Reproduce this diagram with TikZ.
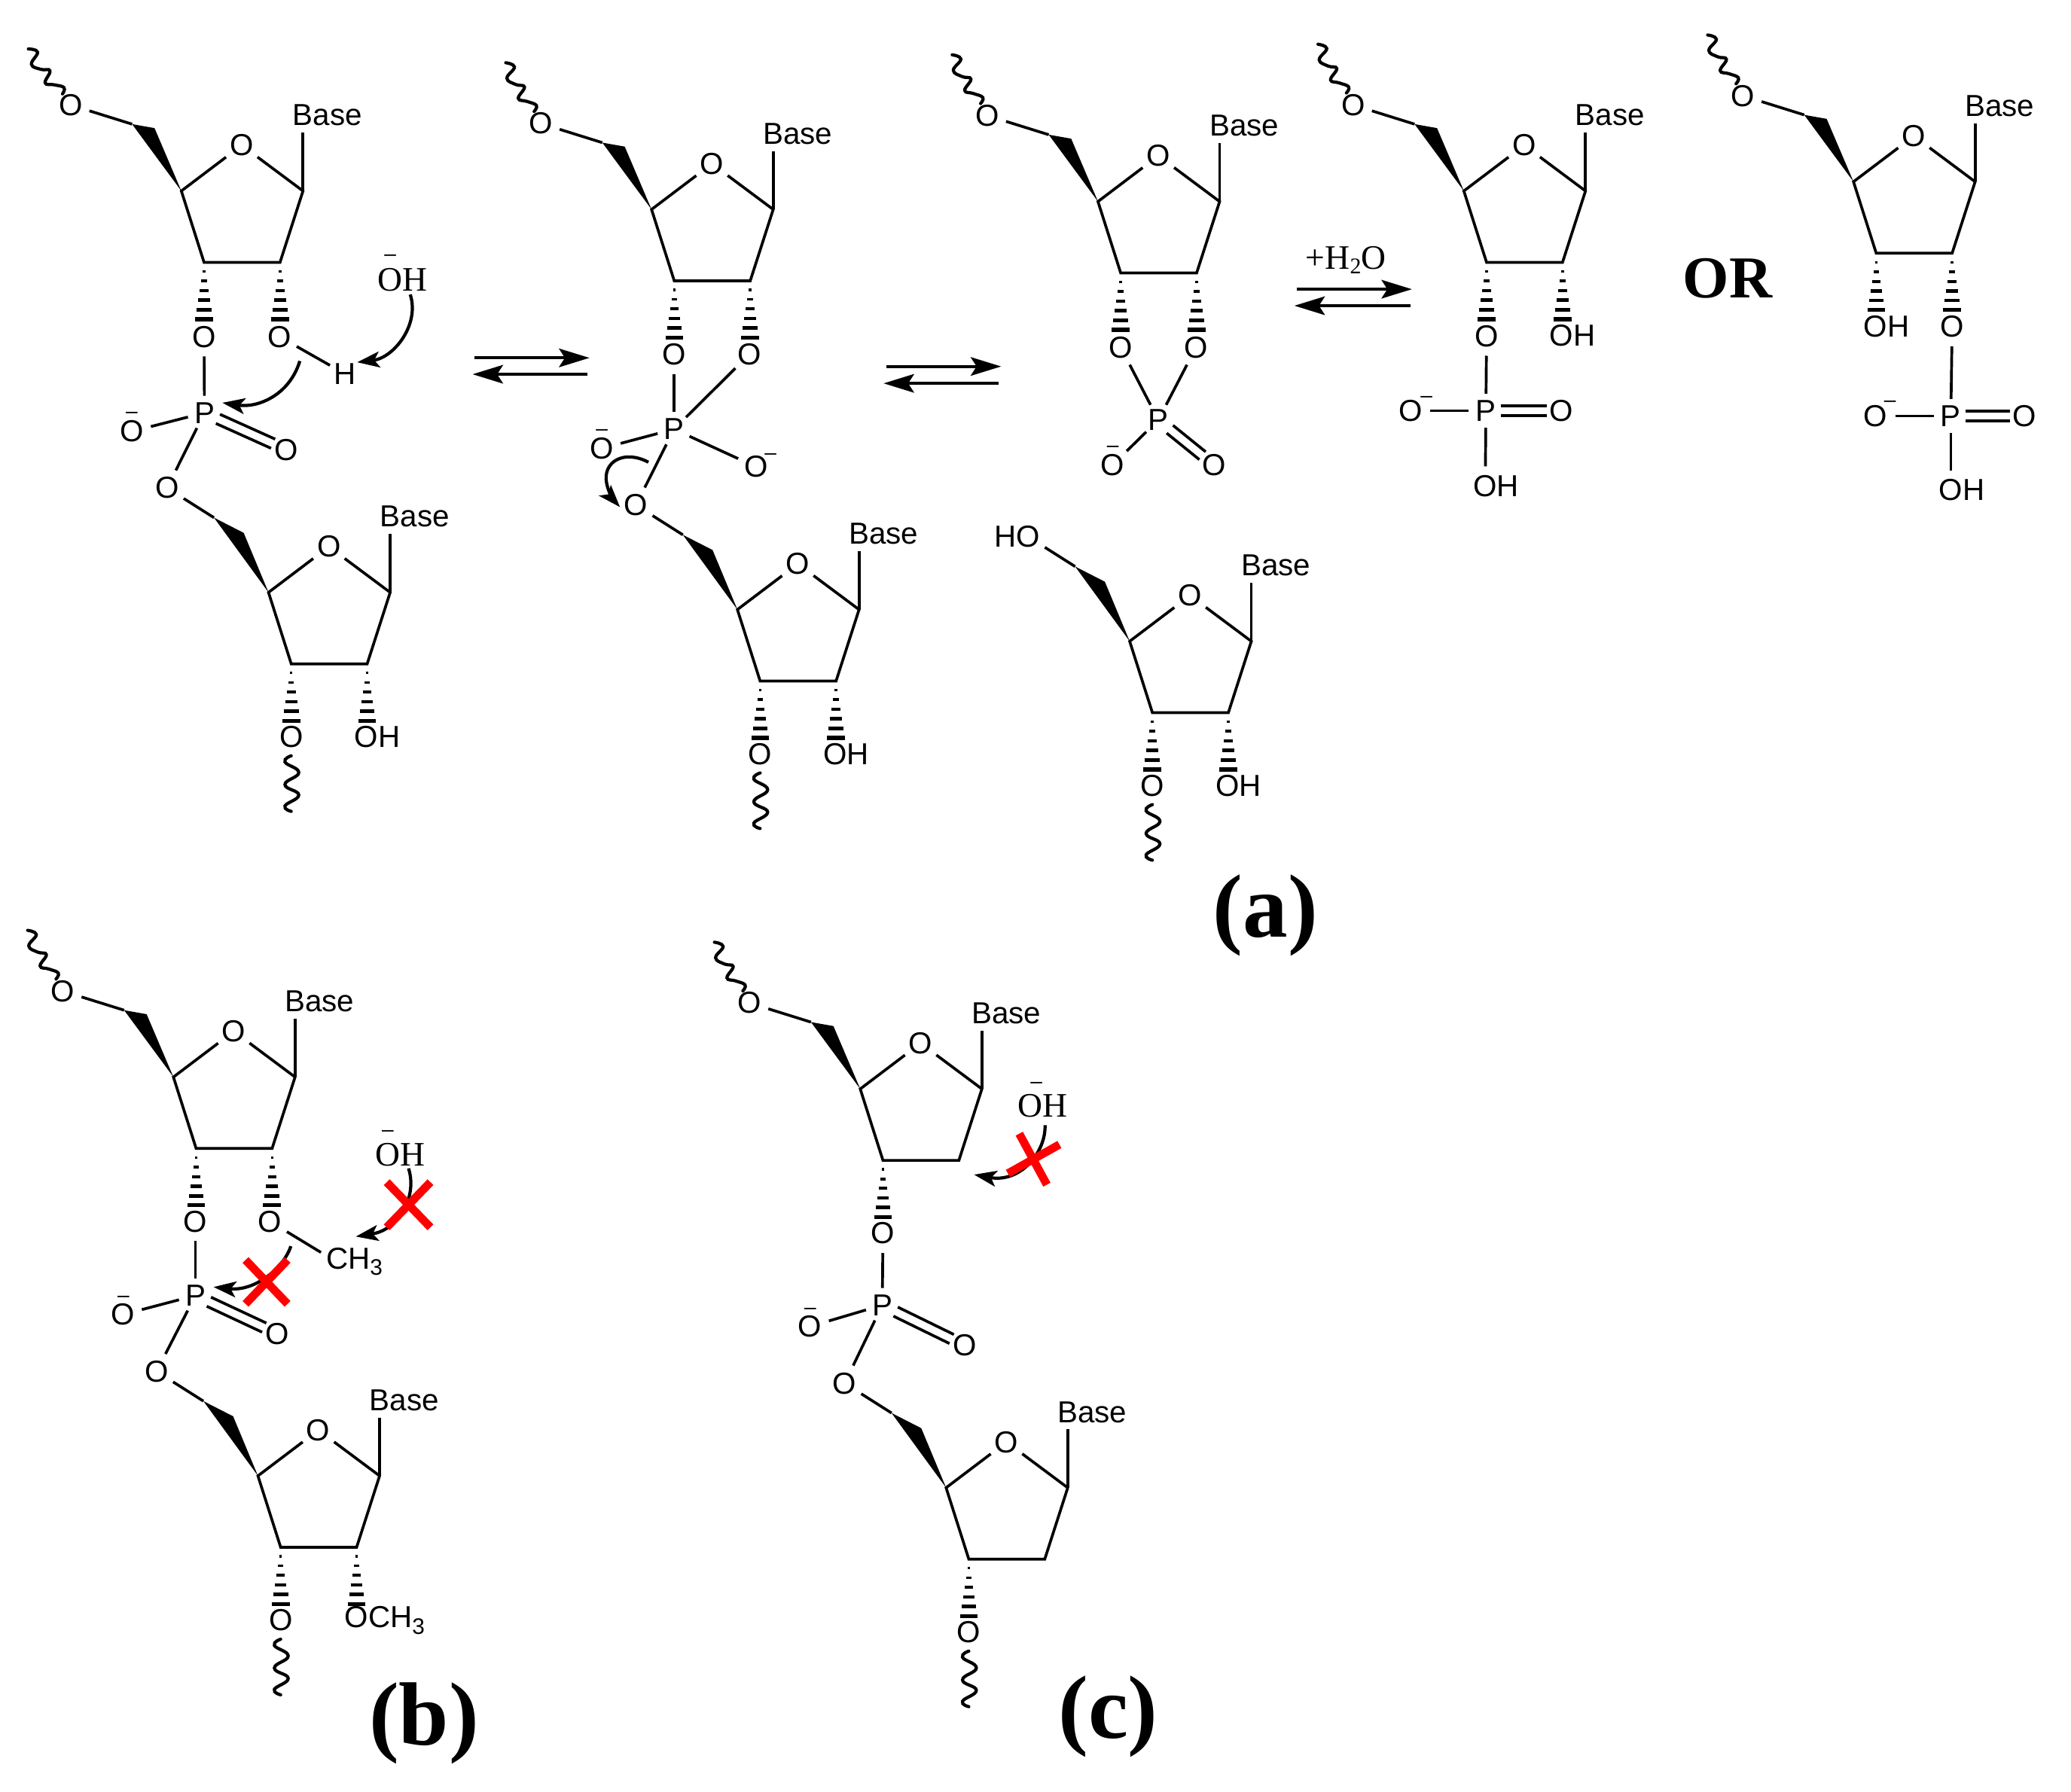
\documentclass[tikz,border=0pt]{standalone}
\usepackage{fontspec}
\setmainfont{Liberation Sans}
\newfontfamily\serifF{Liberation Serif}
\usetikzlibrary{calc,arrows.meta}
\definecolor{xred}{RGB}{255,0,0}
\tikzset{
  bond/.style={line width=1.05pt,line join=miter},
  atomO/.style={circle,inner sep=0pt,minimum size=14.5pt,font=\fontsize{11.5}{13}\selectfont},
  atomP/.style={circle,inner sep=0pt,minimum size=12.5pt,font=\fontsize{11.5}{13}\selectfont},
  lab/.style={inner sep=0pt,font=\fontsize{11.5}{13}\selectfont},
  negmark/.style={inner sep=0pt,anchor=base,yshift=-2.2pt,font=\fontsize{8}{8}\selectfont},
  hydrox/.style={inner sep=0pt,font=\serifF\fontsize{13}{15}\selectfont},
  bigl/.style={inner sep=0pt,font=\serifF\bfseries\fontsize{34}{38}\selectfont},
  orl/.style={inner sep=0pt,font=\serifF\bfseries\fontsize{22.5}{26}\selectfont},
  squig/.style={line width=1.2pt,line cap=round},
  eqarrow/.style={line width=1.2pt,-{Stealth[length=11.5pt,width=7pt,inset=2.2pt]}},
  curvearrow/.style={line width=1.2pt,-{Stealth[length=8.5pt,width=6pt,inset=2pt]}},
  redx/.style={line width=3.1pt,color=xred},
}
\newcommand\subthree{\raisebox{-2.4pt}{\fontsize{8.5}{9}\selectfont 3}}
\newcommand\sugarcore[7]{
  \begin{scope}[shift={(#2,#3)}]
    \node[atomO] (#1O) at (0,0) {O};
    \coordinate (#1C4) at (-45.7,34.6);
    \coordinate (#1C1) at (46.4,34.6);
    \coordinate (#1C3) at (-28.5,88.7);
    \coordinate (#1C2) at (29,88.7);
    \node[lab] (#1B) at (65,-22.7) {Base};
    \coordinate (#1Bt) at (46.4,-9.6);
    \coordinate (#1Wa) at (#5);
    \coordinate (#1Wb) at (#6);
    \node[atomO] (#1F) at (#7) {#4};
  \end{scope}
  \draw[bond] (#1O) -- (#1C4) -- (#1C3) -- (#1C2) -- (#1C1) -- (#1O);
  \draw[bond] (#1C1) -- (#1Bt);
  \fill (#1C4) -- (#1Wa) -- (#1Wb) -- cycle;
  \draw[bond] (#1F) -- (#1Wa);
}
% #1 prefix, #2 #3 ring oxygen, #4 rotation of the squiggle
\newcommand\sugartop[4]{
  \sugarcore{#1}{#2}{#3}{O}{-83,-16}{-66,-13}{-129.5,-30.5}
  \begin{scope}[shift={(#1F)},rotate=#4]
    \draw[squig] plot[smooth,tension=.75] coordinates {(-26.6,-46) (-20,-42.8) (-25.7,-34.2) (-19,-29.5) (-12.4,-27.6) (-17.1,-19) (-10.5,-16.7) (-3.4,-13.7) (-5.1,-9.1)};
  \end{scope}
}
\newcommand\sugarlow[4]{
  \sugarcore{#1}{#2}{#3}{#4}{-87,-22}{-64.5,-10.5}{-122.5,-44.5}
}
\newcommand\hashb[1]{
  \foreach \i in {0,...,5}{
    \pgfmathsetmacro\w{1+\i*1.15}
    \pgfmathsetmacro\dy{6.8+\i*7.25}
    \pgfmathsetmacro\t{.9+\i*.12}
    \draw[line width=\t pt] (#1) ++(-\w,\dy) -- ++(2*\w,0);
  }
}
\newcommand\dbl[2]{
  \draw[bond,shorten <=5.6pt,shorten >=5.5pt] ($(#1)!1.9pt!90:(#2)$) -- ($(#2)!1.9pt!-90:(#1)$);
  \draw[bond,shorten <=5.6pt,shorten >=5.5pt] ($(#1)!1.9pt!-90:(#2)$) -- ($(#2)!1.9pt!90:(#1)$);
}
\newcommand\tail[1]{
  \hashb{#1C3}
  \node[atomO] (#1O3) at ($(#1C3)+(0,55.3)$) {O};
  \begin{scope}[shift={(#1O3)}]
    \draw[squig] plot[smooth,tension=.8] coordinates {(0,14.3) (-4.75,19) (5.7,27) (-4.75,36.1) (5.7,44) (-4.75,52.3) (0,56.4)};
  \end{scope}
}
\newcommand\hydC[1]{
  \hashb{#1C2}
  \node[atomO] (#1O2) at ($(#1C2)+(-.7,55.3)$) {O\rlap{H}};
}
\begin{document}
\begin{tikzpicture}[x=.5pt,y=-.5pt]
\useasboundingbox (0,0) rectangle (1568,1356.46);

% ---------- structure 1
\sugartop{a}{183}{110}{7}
\hashb{aC3}\hashb{aC2}
\node[atomO] (aO3) at (154.5,255) {O};
\node[atomO] (aO2) at (211.7,255) {O};
\node[atomP] (aP) at (154.8,312.6) {P};
\node[atomO] (aOm) at (99.8,326.7) {O};
\node[negmark] (aOmn) at (99.8,312.6) {–};
\node[atomO] (aOd) at (216.8,340.5) {O};
\node[atomP] (aH) at (261,283) {H};
\node[hydrox] (aOH) at (304.5,211.8) {OH};
\node[negmark] (aOHn) at (295.5,193) {–};
\sugarlow{b}{249}{414}{O}
\tail{b}\hydC{b}
\draw[bond] (aO3) -- (aP);
\draw[bond] (aO2) -- (aH);
\draw[bond] (aP) -- (aOm);
\dbl{aP}{aOd}
\draw[bond] (aP) -- (bF);
\coordinate (aA1s) at (310.6,223);
\coordinate (aA1e) at (270.4,274.3);
\coordinate (aA2s) at (227,273.4);
\coordinate (aA2e) at (168.4,305);
\draw[curvearrow] (aA1s) .. controls (318,246) and (298,271) .. (aA1e);
\draw[curvearrow] (aA2s) .. controls (219,299.5) and (195,309) .. (aA2e);
\coordinate (e1a) at (359.3,271); \coordinate (e1b) at (446.3,271);
\coordinate (e1c) at (444.8,283.4); \coordinate (e1d) at (357.8,283.4);
\draw[eqarrow] (e1a) -- (e1b);
\draw[eqarrow] (e1c) -- (e1d);

% ---------- structure 2
\sugartop{c}{539}{124}{0}
\hashb{cC3}\hashb{cC2}
\node[atomO] (cO3) at (510.3,268.4) {O};
\node[atomO] (cO2) at (567.3,268.4) {O};
\node[atomP] (cP) at (510.3,325) {P};
\node[atomO] (cOm) at (455.5,339.6) {O};
\node[negmark] (cOmn) at (455.7,325.3) {–};
\node[atomO] (cOr) at (572.4,353.5) {O};
\node[negmark] (cOrn) at (583.4,343.7) {–};
\sugarlow{d}{604}{427}{O}
\tail{d}\hydC{d}
\draw[bond] (cO3) -- (cP);
\draw[bond] (cO2) -- (cP);
\draw[bond] (cOm) -- (cP);
\draw[bond] (cOr) -- (cP);
\draw[bond] (dF) -- (cP);
\coordinate (cAs) at (490.9,350);
\coordinate (cAe) at (469.4,384);
\draw[curvearrow] (cAs) .. controls (472,340) and (456,350) .. (459.3,366) .. controls (460.5,372) and (464,378) .. (cAe);
\coordinate (e2a) at (671,277.5); \coordinate (e2b) at (758,277.5);
\coordinate (e2c) at (756,290.3); \coordinate (e2d) at (669,290.3);
\draw[eqarrow] (e2a) -- (e2b);
\draw[eqarrow] (e2c) -- (e2d);

% ---------- structure 3
\sugartop{e}{877}{118}{0}
\hashb{eC3}\hashb{eC2}
\node[atomO] (eO3) at (848.5,263) {O};
\node[atomO] (eO2) at (905.5,263) {O};
\node[atomP] (eP) at (877,318) {P};
\node[atomO] (eOm) at (842.5,352) {O};
\node[negmark] (eOmn) at (842.5,338) {–};
\node[atomO] (eOd) at (919,352) {O};
\draw[bond] (eO3) -- (eP);
\draw[bond] (eO2) -- (eP);
\draw[bond] (eP) -- (eOm);
\dbl{eP}{eOd}
\sugarlow{f}{901}{451}{\llap{H}O}
\tail{f}\hydC{f}
\coordinate (e3a) at (982,219); \coordinate (e3b) at (1069,219);
\coordinate (e3c) at (1068,231.5); \coordinate (e3d) at (980,231.5);
\draw[eqarrow] (e3a) -- (e3b);
\draw[eqarrow] (e3c) -- (e3d);
\node[hydrox] (plus) at (1019,197) {+H\raisebox{-1.8pt}{\fontsize{8.5}{9}\selectfont 2}O};

% ---------- structure 4
\sugartop{g}{1154}{110}{0}
\hashb{gC3}
\node[atomO] (gO3) at (1125.5,254.5) {O};
\hydC{g}
\node[atomP] (gP) at (1125,311) {P};
\node[atomO] (gOm) at (1068,311) {O};
\node[negmark] (gOmn) at (1080,300.5) {–};
\node[atomO] (gOd) at (1182,311) {O};
\node[atomO] (gOH) at (1124.5,368) {O\rlap{H}};
\draw[bond] (gO3) -- (gP);
\draw[bond] (gOm) -- (gP);
\dbl{gP}{gOd}
\draw[bond] (gP) -- (gOH);

\node[orl] (orword) at (1308,211) {OR};

% ---------- structure 5
\sugartop{h}{1449}{103}{0}
\hashb{hC3}\hashb{hC2}
\node[atomO] (hO3) at (1420,247.5) {O\rlap{H}};
\node[atomO] (hO2) at (1478,247.5) {O};
\node[atomP] (hP) at (1477,315) {P};
\node[atomO] (hOm) at (1420,315) {O};
\node[negmark] (hOmn) at (1431,303.5) {–};
\node[atomO] (hOd) at (1533,315) {O};
\node[atomO] (hOH) at (1477,371) {O\rlap{H}};
\draw[bond] (hO2) -- (hP);
\draw[bond] (hOm) -- (hP);
\dbl{hP}{hOd}
\draw[bond] (hP) -- (hOH);

\node[bigl] (labA) at (958,693) {(a)};

% ---------- panel b
\sugartop{m}{177}{781}{0}
\hashb{mC3}\hashb{mC2}
\node[atomO] (mO3) at (148,925) {O};
\node[atomO] (mO2) at (204.5,925) {O};
\node[atomP] (mP) at (148,981) {P};
\node[atomO] (mOm) at (93,995.5) {O};
\node[negmark] (mOmn) at (93.4,981.5) {–};
\node[atomO] (mOd) at (210,1010) {O};
\node[lab,anchor=base west] (mMe) at (246.5,961) {CH\subthree};
\node[hydrox] (mOH) at (303,874.3) {OH};
\node[negmark] (mOHn) at (293.6,856.3) {–};
\sugarlow{n}{241}{1083}{O}
\tail{n}
\hashb{nC2}
\node[atomO] (nO2) at (270,1227) {O\rlap{CH\subthree}};
\coordinate (mMeb) at (243,948.4);
\draw[bond] (mO3) -- (mP);
\draw[bond] (mO2) -- (mMeb);
\draw[bond] (mOm) -- (mP);
\dbl{mP}{mOd}
\draw[bond] (mP) -- (nF);
\coordinate (mA1s) at (309.3,884.8);
\coordinate (mA1e) at (269.4,936.4);
\coordinate (mA2s) at (220.2,943.7);
\coordinate (mA2e) at (161.7,974.6);
\draw[curvearrow] (mA1s) .. controls (316,905) and (303,931) .. (mA1e);
\draw[curvearrow] (mA2s) .. controls (215,959.8) and (193.5,978) .. (mA2e);
\coordinate (x1a) at (292.8,895.2); \coordinate (x1b) at (325.9,929.4);
\coordinate (x1c) at (325.9,895.2); \coordinate (x1d) at (292.8,929.4);
\coordinate (x2a) at (185.9,954.1); \coordinate (x2b) at (217.7,987.4);
\coordinate (x2c) at (217.7,954.1); \coordinate (x2d) at (185.9,987.4);
\draw[redx] (x1a) -- (x1b);
\draw[redx] (x1c) -- (x1d);
\draw[redx] (x2a) -- (x2b);
\draw[redx] (x2c) -- (x2d);
\node[bigl] (labB) at (321,1305) {(b)};

% ---------- panel c
\sugartop{p}{697}{790}{0}
\hashb{pC3}
\node[atomO] (pO3) at (668.5,934) {O};
\node[atomP] (pP) at (668,988.3) {P};
\node[atomO] (pOm) at (613.3,1004.5) {O};
\node[negmark] (pOmn) at (613.5,990.7) {–};
\node[atomO] (pOd) at (730.4,1018.8) {O};
\node[hydrox] (pOH) at (789.2,837.2) {OH};
\node[negmark] (pOHn) at (784.6,819.8) {–};
\sugarlow{q}{762}{1092}{O}
\tail{q}
\draw[bond] (pO3) -- (pP);
\draw[bond] (pOm) -- (pP);
\dbl{pP}{pOd}
\draw[bond] (pP) -- (qF);
\coordinate (pAs) at (791.2,852);
\coordinate (pAe) at (737.5,889.5);
\draw[curvearrow] (pAs) .. controls (792,872) and (773,896) .. (pAe);
\coordinate (x3a) at (771.7,858.5); \coordinate (x3b) at (792.6,897.1);
\coordinate (x3c) at (802.1,866.7); \coordinate (x3d) at (763.1,888.6);
\draw[redx] (x3a) -- (x3b);
\draw[redx] (x3c) -- (x3d);
\node[bigl] (labC) at (839,1300) {(c)};
\end{tikzpicture}
\end{document}
